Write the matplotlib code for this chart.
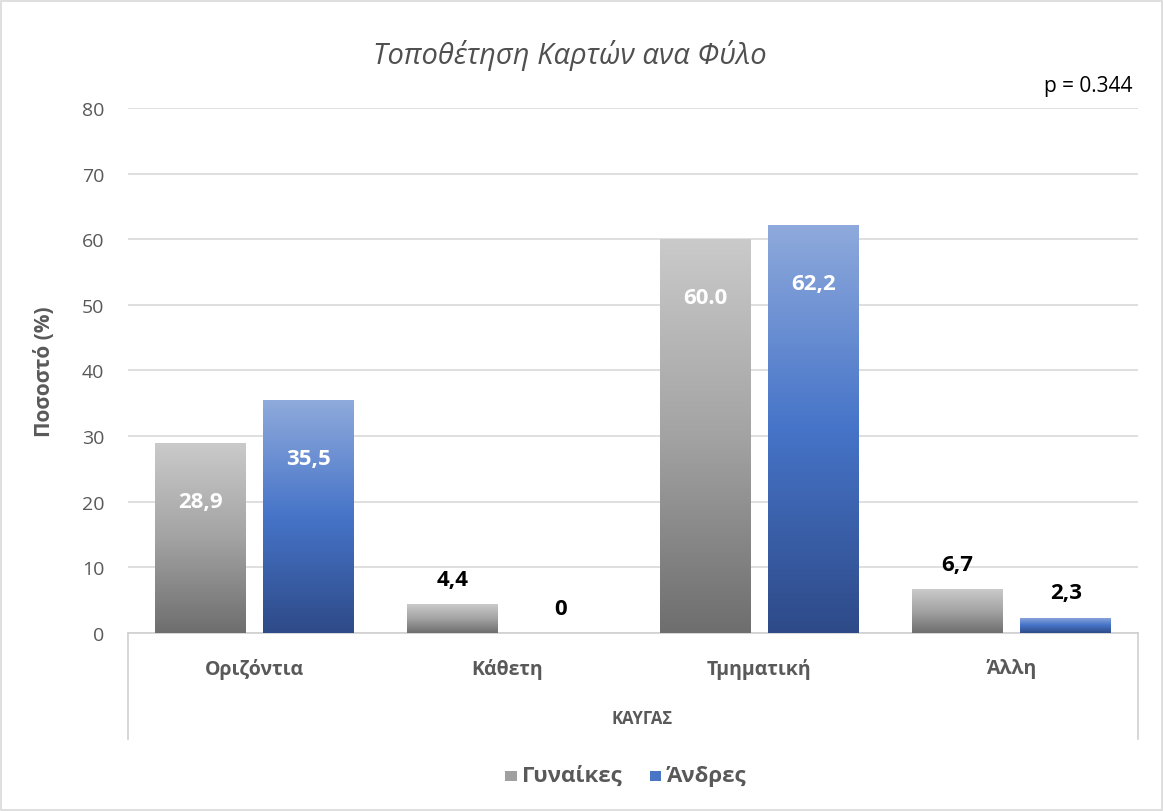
import numpy as np
import matplotlib
matplotlib.use("Agg")
import matplotlib.pyplot as plt
from matplotlib.colors import LinearSegmentedColormap
from matplotlib.patches import Patch, Rectangle
from matplotlib.lines import Line2D

plt.rcParams['font.family'] = ['Open Sans', 'DejaVu Sans']

categories = ['Οριζόντια', 'Κάθετη', 'Τμηματική', 'Άλλη']
women = [28.9, 4.4, 60.0, 6.7]
men = [35.5, 0.0, 62.2, 2.3]
women_labels = ['28,9', '4,4', '60.0', '6,7']
men_labels = ['35,5', '0', '62,2', '2,3']
series_names = ['Γυναίκες', 'Άνδρες']

txt = '#595959'
grey_cm = LinearSegmentedColormap.from_list('g', ['#6e6e6e', '#a3a3a3', '#cacaca'])
blue_cm = LinearSegmentedColormap.from_list('b', ['#2e4a88', '#4674c8', '#8faadc'])

fig = plt.figure(figsize=(11.63, 8.12), dpi=100)
ax = fig.add_axes([0.110, 0.2192, 0.8685, 0.6466])

x = np.arange(len(categories))
w = 0.36
off = 0.214

bars_w = ax.bar(x - off, women, w, facecolor='none', edgecolor='none', zorder=3)
bars_m = ax.bar(x + off, men, w, facecolor='none', edgecolor='none', zorder=3)

# vertical gradient inside every bar
grad = np.linspace(0, 1, 256).reshape(-1, 1)
for bars, cm in [(bars_w, grey_cm), (bars_m, blue_cm)]:
    for b in bars:
        h = b.get_height()
        if h <= 0:
            continue
        x0 = b.get_x()
        im = ax.imshow(grad, cmap=cm, origin='lower', aspect='auto',
                       extent=(x0, x0 + b.get_width(), 0, h), zorder=3)
        im.set_clip_path(b)

# data labels
for bars, labels in [(bars_w, women_labels), (bars_m, men_labels)]:
    for b, lab in zip(bars, labels):
        h = b.get_height()
        cx = b.get_x() + b.get_width() / 2
        if h > 20:
            ax.annotate(lab, (cx, h), xytext=(0, -42), textcoords='offset points',
                        ha='center', va='center', color='white', fontsize=16,
                        fontweight='bold', zorder=5)
        else:
            ax.annotate(lab, (cx, h), xytext=(0, 18), textcoords='offset points',
                        ha='center', va='center', color='black', fontsize=16,
                        fontweight='bold', zorder=5)

ax.set_xlim(-0.5, 3.5)
ax.set_ylim(0, 80)
ax.set_yticks(np.arange(0, 81, 10))
ax.yaxis.grid(True, color='#d9d9d9', linewidth=1.2, zorder=0)
ax.set_axisbelow(True)
for s in ['top', 'right', 'left']:
    ax.spines[s].set_visible(False)
ax.spines['bottom'].set_color('#d0d0d0')
ax.spines['bottom'].set_linewidth(1.2)
ax.tick_params(axis='y', length=0, labelsize=14, labelcolor=txt, pad=17)
ax.tick_params(axis='x', length=0, labelsize=14, labelcolor=txt, pad=18)
ax.set_xticks(x)
ax.set_xticklabels(categories, fontweight='bold')
ax.set_ylabel('Ποσοστό (%)', fontsize=15, fontweight='bold', color=txt, labelpad=19)

# multi-level category box
for xf in [0.110, 0.9785]:
    fig.add_artist(Line2D([xf, xf], [0.2192, 0.0887], color='#d0d0d0', linewidth=1.2))
fig.text(0.552, 0.1145, 'ΚΑΥΓΑΣ', ha='center', va='center', fontsize=12,
         fontweight='bold', color=txt)

fig.text(0.49, 0.932, 'Τοποθέτηση Καρτών ανα Φύλο', ha='center', va='center',
         fontsize=21, style='italic', color='#505050')
fig.text(0.974, 0.893, 'p = 0.344', ha='right', va='center', fontsize=15, color='black')

handles = [Patch(facecolor='#a0a0a0', edgecolor='none'),
           Patch(facecolor='#4a74c4', edgecolor='none')]
leg = fig.legend(handles, series_names, loc='center', bbox_to_anchor=(0.538, 0.044),
                 ncol=2, frameon=False, handlelength=0.8, handleheight=0.8,
                 columnspacing=2.0, handletextpad=0.4)
for t in leg.get_texts():
    t.set_fontsize(16)
    t.set_fontweight('bold')
    t.set_color(txt)

fig.add_artist(Rectangle((0.001, 0.001), 0.998, 0.997, transform=fig.transFigure,
                         fill=False, edgecolor='#d9d9d9', linewidth=1.2))

fig.savefig('out.png', dpi=100)
